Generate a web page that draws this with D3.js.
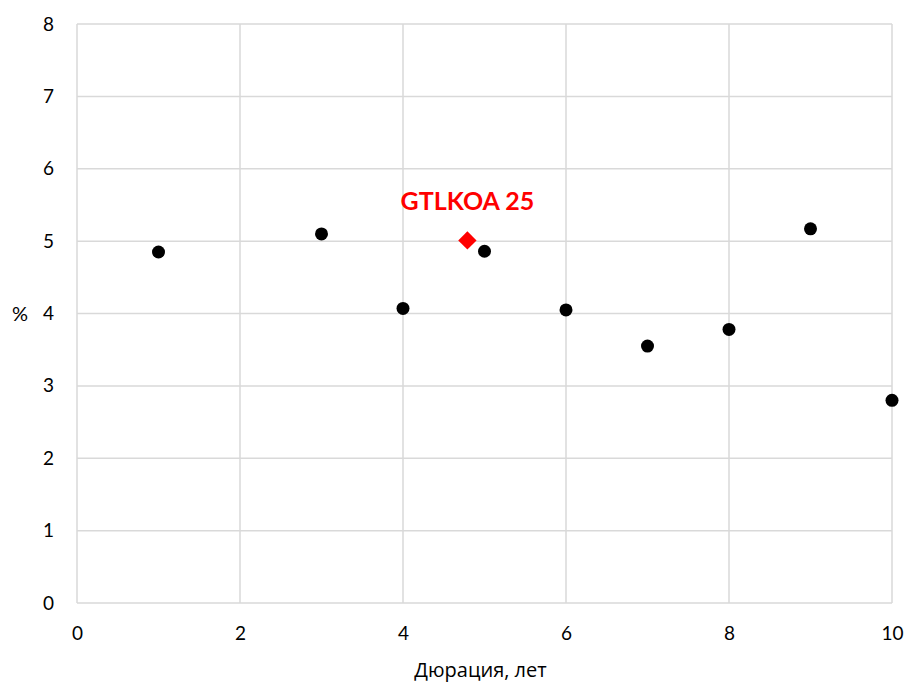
<!DOCTYPE html>
<html>
<head>
<meta charset="utf-8">
<script src="https://cdn.jsdelivr.net/npm/d3@7"></script>
<style>
  body { margin: 0; background: #fff; }
  text { font-family: Lato, "Open Sans", sans-serif; }
</style>
</head>
<body>
<div id="chart"></div>
<script>
// data
const durations = [1, 3, 4, 5, 6, 7, 8, 9, 10]
const yields = [4.85, 5.10, 4.07, 4.86, 4.05, 3.55, 3.78, 5.17, 2.80]
const highlightName = ["GTLKOA 25"]
const highlightDur = [4.79]
const highlightYield = [5.01]
const xTicks = [0, 2, 4, 6, 8, 10]
const yTicks = [0, 1, 2, 3, 4, 5, 6, 7, 8]

const W = 906, H = 684
const margin = {top: 24, right: 14, bottom: 81, left: 77}
const width = W - margin.left - margin.right
const height = H - margin.top - margin.bottom

const x = d3.scaleLinear().domain([0, 10]).range([0, width])
const y = d3.scaleLinear().domain([0, 8]).range([height, 0])

const svg = d3.select("#chart").append("svg")
    .attr("width", W)
    .attr("height", H)
  .append("g")
    .attr("transform", "translate(" + margin.left + "," + margin.top + ")")

// gridlines
svg.append("g")
  .selectAll("line")
  .data(yTicks)
  .enter().append("line")
    .attr("x1", 0).attr("x2", width)
    .attr("y1", d => y(d)).attr("y2", d => y(d))
    .attr("stroke", "#d9d9d9").attr("stroke-width", 1.5)

svg.append("g")
  .selectAll("line")
  .data(xTicks)
  .enter().append("line")
    .attr("y1", 0).attr("y2", height)
    .attr("x1", d => x(d)).attr("x2", d => x(d))
    .attr("stroke", "#d9d9d9").attr("stroke-width", 1.5)

// axes (labels only)
const xAxis = svg.append("g")
    .attr("transform", "translate(0," + height + ")")
    .call(d3.axisBottom(x).tickValues(xTicks).tickSize(0).tickPadding(24))
xAxis.select(".domain").remove()
xAxis.selectAll("text").attr("font-size", 19).attr("fill", "#000")
    .style("font-family", "Lato, 'Open Sans', sans-serif")

const yAxis = svg.append("g")
    .call(d3.axisLeft(y).tickValues(yTicks).tickSize(0).tickPadding(23))
yAxis.select(".domain").remove()
yAxis.selectAll("text").attr("font-size", 19).attr("fill", "#000")
    .style("font-family", "Lato, 'Open Sans', sans-serif")

// axis titles
svg.append("text")
    .attr("x", width / 2 - 4)
    .attr("y", height + 74)
    .attr("text-anchor", "middle")
    .attr("font-size", 20)
    .style("font-family", "'Open Sans', sans-serif")
    .text("Дюрация, лет")

svg.append("text")
    .attr("x", -57)
    .attr("y", y(4))
    .attr("dy", "0.35em")
    .attr("text-anchor", "middle")
    .attr("font-size", 20)
    .text("%")

// points
svg.selectAll(".dot")
    .data(durations)
  .enter().append("circle")
    .attr("class", "dot")
    .attr("cx", d => x(d))
    .attr("cy", (d, i) => y(yields[i]))
    .attr("r", 6.5)
    .attr("fill", "#000")

// highlighted bond
svg.selectAll(".hl")
    .data(highlightDur)
  .enter().append("path")
    .attr("class", "hl")
    .attr("d", d3.symbol().type(d3.symbolDiamond2).size(214))
    .attr("transform", (d, i) => "translate(" + x(d) + "," + y(highlightYield[i]) + ")")
    .attr("fill", "#ff0000")

svg.selectAll(".hl-label")
    .data(highlightDur)
  .enter().append("text")
    .attr("class", "hl-label")
    .attr("x", d => x(d))
    .attr("y", (d, i) => y(highlightYield[i]) - 30)
    .attr("text-anchor", "middle")
    .attr("font-size", 25)
    .attr("font-weight", "bold")
    .attr("fill", "#ff0000")
    .text((d, i) => highlightName[i])
</script>
</body>
</html>
